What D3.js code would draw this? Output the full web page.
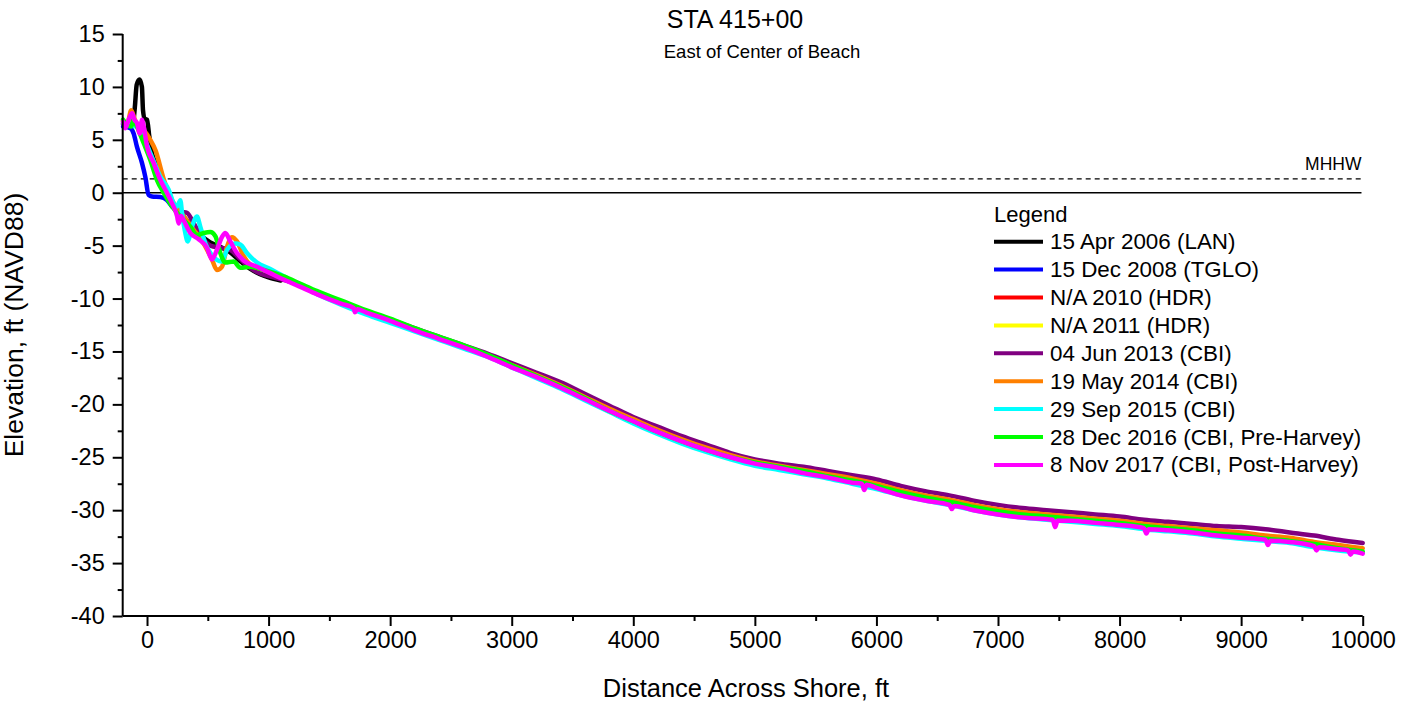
<!DOCTYPE html>
<html><head><meta charset="utf-8">
<script src="https://cdn.jsdelivr.net/npm/d3@7"></script>
<style>body{margin:0;background:#fff}svg{display:block;font-family:Arial,"Liberation Sans",sans-serif}</style>
</head><body><svg id="c" width="1402" height="706"></svg>
<script>
// ---------- data ----------
const seriesNames = ["15 Apr 2006 (LAN)","15 Dec 2008 (TGLO)","N/A 2010 (HDR)","N/A 2011 (HDR)","04 Jun 2013 (CBI)","19 May 2014 (CBI)","29 Sep 2015 (CBI)","28 Dec 2016 (CBI, Pre-Harvey)","8 Nov 2017 (CBI, Post-Harvey)"];
const seriesColors = ["#000000","#0000ff","#ff0000","#ffff00","#800080","#ff8000","#00ffff","#00ff00","#ff00ff"];
const xTicks = [0,1000,2000,3000,4000,5000,6000,7000,8000,9000,10000];
const yTicks = [-40,-35,-30,-25,-20,-15,-10,-5,0,5,10,15];
const mhhw = 1.3;

const s2006 = [[-197,6.5],[-150,6.4],[-115,6.6],[-100,8.1],[-85,10.2],[-62,10.7],[-42,10.0],[-33,7.8],[-19,7.0],[0,6.9],[19,5.3],[36,4.0],[80,2.5],[140,0.8],[200,-0.9],[280,-2.0],[350,-2.9],[430,-3.9],[520,-4.7],[600,-5.1],[680,-5.6],[760,-6.4],[850,-7.2],[930,-7.7],[1000,-8.0],[1100,-8.3]];
const s2008 = [[-197,6.25],[-137,6.1],[-110,5.6],[-83,4.35],[-41,2.8],[-14,1.5],[13,-0.2],[41,-0.35],[110,-0.4],[164,-0.7],[206,-1.3],[230,-1.5]];
const s2010 = [];
const s2011 = [];
const s2013 = [[230,-1.4],[280,-1.8],[329,-1.9],[380,-2.8],[450,-4.2],[521,-5.0],[603,-5.2],[685,-5.4],[768,-6.3],[850,-7.1],[905,-7.5],[1041,-8.0],[1200,-8.5],[1400,-9.4],[1600,-10.3],[1800,-11.2],[2000,-12.0],[2200,-12.8],[2400,-13.6],[2600,-14.4],[2800,-15.2],[3000,-16.1],[3200,-17.0],[3400,-17.9],[3600,-19.0],[3800,-20.1],[4000,-21.2],[4200,-22.1],[4400,-23.0],[4600,-23.8],[4800,-24.6],[5000,-25.2],[5200,-25.6],[5400,-25.9],[5600,-26.3],[5800,-26.7],[6000,-27.1],[6200,-27.7],[6400,-28.2],[6600,-28.6],[6800,-29.1],[7000,-29.5],[7200,-29.8],[7400,-30.0],[7600,-30.2],[7800,-30.4],[8000,-30.6],[8200,-30.9],[8400,-31.1],[8600,-31.3],[8800,-31.5],[9000,-31.6],[9200,-31.8],[9400,-32.1],[9600,-32.4],[9800,-32.8],[10000,-33.1]];
const s2014 = [[-197,6.8],[-160,6.6],[-130,7.8],[-100,6.9],[-60,6.0],[-20,5.8],[27,5.0],[70,4.0],[137,1.3],[206,-0.7],[301,-2.2],[384,-3.5],[466,-4.8],[534,-6.3],[575,-7.3],[616,-7.0],[658,-5.1],[699,-4.2],[740,-4.6],[795,-6.0],[850,-6.8],[960,-7.3],[1100,-7.9],[1200,-8.4],[1400,-9.4],[1600,-10.4],[1800,-11.2],[2000,-12.1],[2200,-12.9],[2400,-13.7],[2600,-14.5],[2800,-15.4],[3000,-16.3],[3200,-17.2],[3400,-18.2],[3600,-19.3],[3800,-20.4],[4000,-21.4],[4200,-22.4],[4400,-23.3],[4600,-24.1],[4800,-24.8],[5000,-25.4],[5200,-25.8],[5400,-26.2],[5600,-26.6],[5800,-27.0],[6000,-27.5],[6200,-28.1],[6400,-28.6],[6600,-29.0],[6800,-29.5],[7000,-29.9],[7200,-30.2],[7400,-30.4],[7600,-30.6],[7800,-30.8],[8000,-31.0],[8200,-31.3],[8400,-31.5],[8600,-31.7],[8800,-31.9],[9000,-32.1],[9200,-32.4],[9400,-32.6],[9600,-33.0],[9800,-33.3],[10000,-33.6]];
const s2015 = [[-197,6.6],[-150,6.5],[-110,6.3],[-60,6.2],[-28,5.3],[40,3.4],[110,1.5],[178,0.3],[219,-1.0],[247,-1.3],[274,-0.7],[288,-1.9],[315,-3.8],[334,-4.6],[370,-3.2],[411,-2.25],[438,-3.2],[480,-4.8],[521,-5.7],[575,-6.35],[616,-6.5],[658,-5.4],[726,-4.8],[768,-4.9],[822,-5.7],[905,-6.6],[1014,-7.2],[1124,-7.9],[1262,-8.8],[1400,-9.6],[1600,-10.6],[1800,-11.5],[2000,-12.3],[2200,-13.1],[2400,-13.9],[2600,-14.7],[2800,-15.5],[3000,-16.5],[3200,-17.5],[3400,-18.5],[3600,-19.6],[3800,-20.7],[4000,-21.8],[4200,-22.8],[4400,-23.7],[4600,-24.5],[4800,-25.2],[5000,-25.8],[5200,-26.2],[5400,-26.6],[5600,-27.0],[5800,-27.5],[6000,-28.0],[6200,-28.6],[6400,-29.1],[6600,-29.5],[6800,-30.0],[7000,-30.4],[7200,-30.7],[7400,-30.9],[7600,-31.1],[7800,-31.3],[8000,-31.5],[8200,-31.8],[8400,-32.0],[8600,-32.2],[8800,-32.5],[9000,-32.7],[9200,-32.9],[9400,-33.1],[9600,-33.5],[9800,-33.8],[10000,-34.0]];
const s2016 = [[-197,6.9],[-164,6.4],[-131,6.25],[-110,6.9],[-83,6.25],[-28,4.7],[27,3.1],[82,1.2],[137,0.0],[206,-1.3],[274,-2.25],[356,-3.2],[411,-4.0],[466,-3.8],[521,-3.7],[562,-4.1],[603,-5.7],[644,-6.6],[713,-6.5],[768,-7.1],[850,-7.0],[960,-7.3],[1124,-7.9],[1262,-8.6],[1400,-9.3],[1600,-10.2],[1800,-11.1],[2000,-11.9],[2200,-12.8],[2400,-13.6],[2600,-14.4],[2800,-15.3],[3000,-16.3],[3200,-17.3],[3400,-18.3],[3600,-19.4],[3800,-20.6],[4000,-21.6],[4200,-22.6],[4400,-23.5],[4600,-24.3],[4800,-25.0],[5000,-25.5],[5200,-25.9],[5400,-26.3],[5600,-26.8],[5800,-27.2],[6000,-27.7],[6200,-28.3],[6400,-28.8],[6600,-29.2],[6800,-29.7],[7000,-30.1],[7200,-30.4],[7400,-30.6],[7600,-30.8],[7800,-31.0],[8000,-31.2],[8200,-31.5],[8400,-31.7],[8600,-31.9],[8800,-32.2],[9000,-32.4],[9200,-32.7],[9400,-32.9],[9600,-33.2],[9800,-33.6],[10000,-33.9]];
const s2017 = [[-197,6.7],[-178,6.1],[-151,6.9],[-123,7.5],[-104,6.9],[-83,6.6],[-60,5.6],[-41,6.9],[-28,6.3],[0,4.4],[55,2.8],[110,1.2],[164,0.0],[206,-1.0],[247,-2.2],[260,-2.9],[280,-2.2],[301,-2.6],[356,-3.8],[425,-4.4],[493,-5.2],[534,-6.3],[575,-5.4],[616,-4.2],[644,-3.8],[685,-4.6],[740,-5.7],[795,-6.4],[905,-7.0],[1014,-7.6],[1124,-8.2],[1262,-8.9],[1400,-9.6],[1600,-10.5],[1700,-10.9],[1710,-11.3],[1730,-11.0],[1800,-11.3],[2000,-12.1],[2200,-13.0],[2400,-13.8],[2600,-14.6],[2800,-15.5],[3000,-16.5],[3200,-17.4],[3400,-18.4],[3600,-19.5],[3800,-20.6],[4000,-21.6],[4200,-22.6],[4400,-23.5],[4600,-24.3],[4800,-25.0],[5000,-25.6],[5200,-26.0],[5400,-26.5],[5600,-26.9],[5800,-27.4],[5880,-27.5],[5900,-28.1],[5920,-27.6],[6000,-27.9],[6200,-28.6],[6400,-29.1],[6600,-29.5],[6620,-29.9],[6640,-29.6],[6800,-30.0],[7000,-30.4],[7200,-30.7],[7450,-30.9],[7470,-31.6],[7490,-31.0],[7600,-31.0],[7800,-31.2],[8000,-31.4],[8200,-31.7],[8220,-32.2],[8240,-31.8],[8400,-31.9],[8600,-32.1],[8800,-32.4],[9000,-32.6],[9200,-32.8],[9220,-33.3],[9240,-32.9],[9400,-33.0],[9600,-33.4],[9620,-33.8],[9640,-33.5],[9800,-33.7],[9880,-33.8],[9900,-34.2],[9920,-33.9],[10000,-34.1]];
const seriesData = [s2006,s2008,s2010,s2011,s2013,s2014,s2015,s2016,s2017];

// ---------- layout ----------
const svg = d3.select("#c");
const x = d3.scaleLinear().domain([-200,10000]).range([122.7,1362.7]);
const y = d3.scaleLinear().domain([-40,15]).range([616,34]);
const FONT_TICK = 23.5;
const fmt = d => String(d); // plain hyphen-minus like the reference

// zero line and MHHW
svg.append("line").attr("x1",x(-200)).attr("x2",x(9990)).attr("y1",y(0)).attr("y2",y(0))
  .attr("stroke","#000").attr("stroke-width",1.4);
svg.append("line").attr("x1",x(-200)).attr("x2",x(9990)).attr("y1",y(mhhw)).attr("y2",y(mhhw))
  .attr("stroke","#000").attr("stroke-width",1.2).attr("stroke-dasharray","5,4");
svg.append("text").attr("x",x(9990)).attr("y",y(mhhw)-9).attr("text-anchor","end")
  .attr("font-size",17.5).text("MHHW");

// series lines
const line = d3.line().x(d=>x(d[0])).y(d=>y(d[1])).curve(d3.curveMonotoneX);
seriesData.forEach((s,i)=>{
  if(!s.length) return;
  svg.append("path").datum(s).attr("d",line).attr("fill","none")
    .attr("stroke",seriesColors[i]).attr("stroke-width",4.5).attr("stroke-linejoin","round").attr("stroke-linecap","round");
});

// axes
const xAxis = svg.append("g").attr("transform",`translate(0,${y(-40)})`)
  .call(d3.axisBottom(x).tickValues(xTicks).tickSize(10).tickPadding(5).tickFormat(fmt));
const xMinor = svg.append("g").attr("transform",`translate(0,${y(-40)})`)
  .call(d3.axisBottom(x).tickValues(d3.range(500,10000,1000)).tickSize(5).tickFormat(""));
const yAxis = svg.append("g").attr("transform",`translate(${x(-200)},0)`)
  .call(d3.axisLeft(y).tickValues(yTicks).tickSize(10).tickPadding(8).tickFormat(fmt));
const yMinor = svg.append("g").attr("transform",`translate(${x(-200)},0)`)
  .call(d3.axisLeft(y).tickValues(d3.range(-37.5,15,5)).tickSize(5).tickFormat(""));
[xAxis,xMinor,yAxis,yMinor].forEach(g=>{
  g.selectAll(".domain").attr("stroke","#000").attr("stroke-width",2);
  g.selectAll(".tick line").attr("stroke","#000").attr("stroke-width",2);
  g.selectAll("text").attr("font-size",FONT_TICK).attr("font-family","Arial, 'Liberation Sans', sans-serif").attr("fill","#000");
});
xMinor.select(".domain").remove(); yMinor.select(".domain").remove();
xAxis.select(".domain").attr("d",`M${x(-200)},0H${x(10000)}`);
yAxis.select(".domain").attr("d",`M0,${y(-40)}V${y(15)}`);

// titles
svg.append("text").attr("x",735).attr("y",28).attr("text-anchor","middle").attr("font-size",25).text("STA 415+00");
svg.append("text").attr("x",762).attr("y",58).attr("text-anchor","middle").attr("font-size",18.5).text("East of Center of Beach");
svg.append("text").attr("x",746).attr("y",697).attr("text-anchor","middle").attr("font-size",25.5).text("Distance Across Shore, ft");
svg.append("text").attr("transform",`translate(23,${(y(15)+y(-40))/2}) rotate(-90)`).attr("text-anchor","middle").attr("font-size",26.5).text("Elevation, ft (NAVD88)");

// legend
const lg = svg.append("g");
lg.append("text").attr("x",994).attr("y",222).attr("font-size",22).text("Legend");
seriesNames.forEach((n,i)=>{
  const cy = 241.7 + i*27.9;
  lg.append("line").attr("x1",994).attr("x2",1043).attr("y1",cy).attr("y2",cy)
    .attr("stroke",seriesColors[i]).attr("stroke-width",4);
  lg.append("text").attr("x",1050).attr("y",cy+7.5).attr("font-size",22.4).text(n);
});
</script></body></html>
